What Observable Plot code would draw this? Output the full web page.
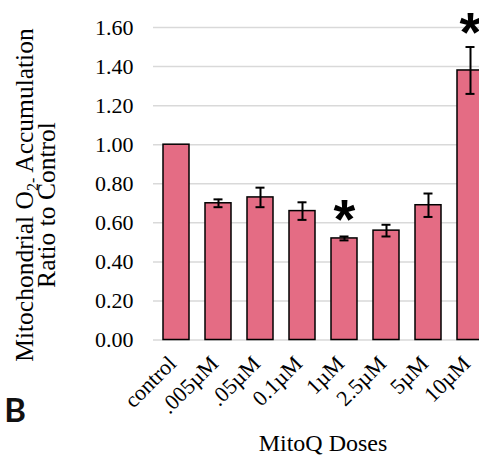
<!DOCTYPE html>
<html>
<head>
<meta charset="utf-8">
<script src="https://cdn.jsdelivr.net/npm/d3@7"></script>
<script src="https://cdn.jsdelivr.net/npm/@observablehq/plot@0.6"></script>
<style>
  html, body { margin: 0; padding: 0; background: #fff; overflow: hidden; }
  #chart svg { display: block; }
</style>
</head>
<body>
<div id="chart"></div>
<script>
// Data
const doses = ["control", ".005µM", ".05µM", "0.1µM", "1µM", "2.5µM", "5µM", "10µM"];
const ratios = [1.00, 0.70, 0.73, 0.66, 0.52, 0.56, 0.69, 1.38];
const errors = [0.00, 0.02, 0.05, 0.045, 0.01, 0.03, 0.06, 0.12];
const starDoses = ["1µM", "10µM"];
const starY = [0.66, 1.62];
const yTicks = [0, 0.2, 0.4, 0.6, 0.8, 1.0, 1.2, 1.4, 1.6];

const data = doses.map((d, i) => ({dose: d, value: ratios[i], lo: ratios[i] - errors[i], hi: ratios[i] + errors[i]}));
const stars = starDoses.map((d, i) => ({dose: d, y: starY[i]}));

const serif = "Liberation Serif";

const chart = Plot.plot({
  width: 479,
  height: 457,
  marginLeft: 153,
  marginRight: 0,
  marginTop: 27,
  marginBottom: 117.5,
  style: {fontFamily: serif, fontSize: "22px", background: "#fff", color: "#000"},
  x: {domain: doses, range: [153, 494], paddingInner: 0.37, paddingOuter: 0.18, label: null},
  y: {domain: [0, 1.6], label: null},
  marks: [
    Plot.gridY(yTicks, {stroke: "#d9d9d9", strokeOpacity: 1, strokeWidth: 1.5}),
    Plot.barY(data, {x: "dose", y: "value", fill: "#e46c84", stroke: "#000", strokeWidth: 1.5}),
    Plot.ruleX(data.filter(d => d.hi > d.lo), {x: "dose", y1: "lo", y2: "hi", stroke: "#000", strokeWidth: 2}),
    Plot.tickY(data.filter(d => d.hi > d.lo), {x: "dose", y: "lo", stroke: "#000", strokeWidth: 2, insetLeft: 8.5, insetRight: 8.5}),
    Plot.tickY(data.filter(d => d.hi > d.lo), {x: "dose", y: "hi", stroke: "#000", strokeWidth: 2, insetLeft: 8.5, insetRight: 8.5}),
    Plot.text(stars, {x: "dose", y: "y", text: () => "*", fontSize: 56, fontWeight: "bold", fontFamily: "Liberation Sans", lineAnchor: "middle", dy: 9}),
    Plot.axisY(yTicks, {tickSize: 0, tickPadding: 20, tickFormat: d => d.toFixed(2), fontSize: 22, fontFamily: serif, fontVariant: "normal", label: null}),
    Plot.axisX({tickSize: 0, tickPadding: 20, dx: -4, tickRotate: -45, fontSize: 22, fontFamily: serif, label: null})
  ]
});

const svg = d3.select(chart);
svg.selectAll("g[aria-label='y-axis tick label'] text, g[aria-label='x-axis tick label'] text")
  .attr("font-family", serif);

// Y axis title (two lines, rotated)
const t1 = svg.append("text")
  .attr("transform", "translate(33,195) rotate(-90)")
  .attr("text-anchor", "middle")
  .attr("font-family", serif)
  .attr("font-size", 25.5)
  .attr("fill", "#000");
t1.append("tspan").text("Mitochondrial O");
t1.append("tspan").attr("font-size", 16).attr("dy", 5).text("2");
t1.append("tspan").attr("font-size", 16).text("-");
t1.append("tspan").attr("dy", -5).text(" Accumulation");

svg.append("text")
  .attr("transform", "translate(55,205) rotate(-90)")
  .attr("text-anchor", "middle")
  .attr("font-family", serif)
  .attr("font-size", 25.5)
  .attr("fill", "#000")
  .text("Ratio to Control");

// X axis title
svg.append("text")
  .attr("x", 323).attr("y", 451)
  .attr("text-anchor", "middle")
  .attr("font-family", serif)
  .attr("font-size", 24)
  .attr("fill", "#000")
  .text("MitoQ Doses");

// Panel letter
svg.append("text")
  .attr("x", 15).attr("y", 422)
  .attr("font-family", "Lato")
  .attr("font-weight", "bold")
  .attr("font-size", 33)
  .attr("fill", "#111")
  .text("B");

document.getElementById("chart").appendChild(chart);
</script>
</body>
</html>
